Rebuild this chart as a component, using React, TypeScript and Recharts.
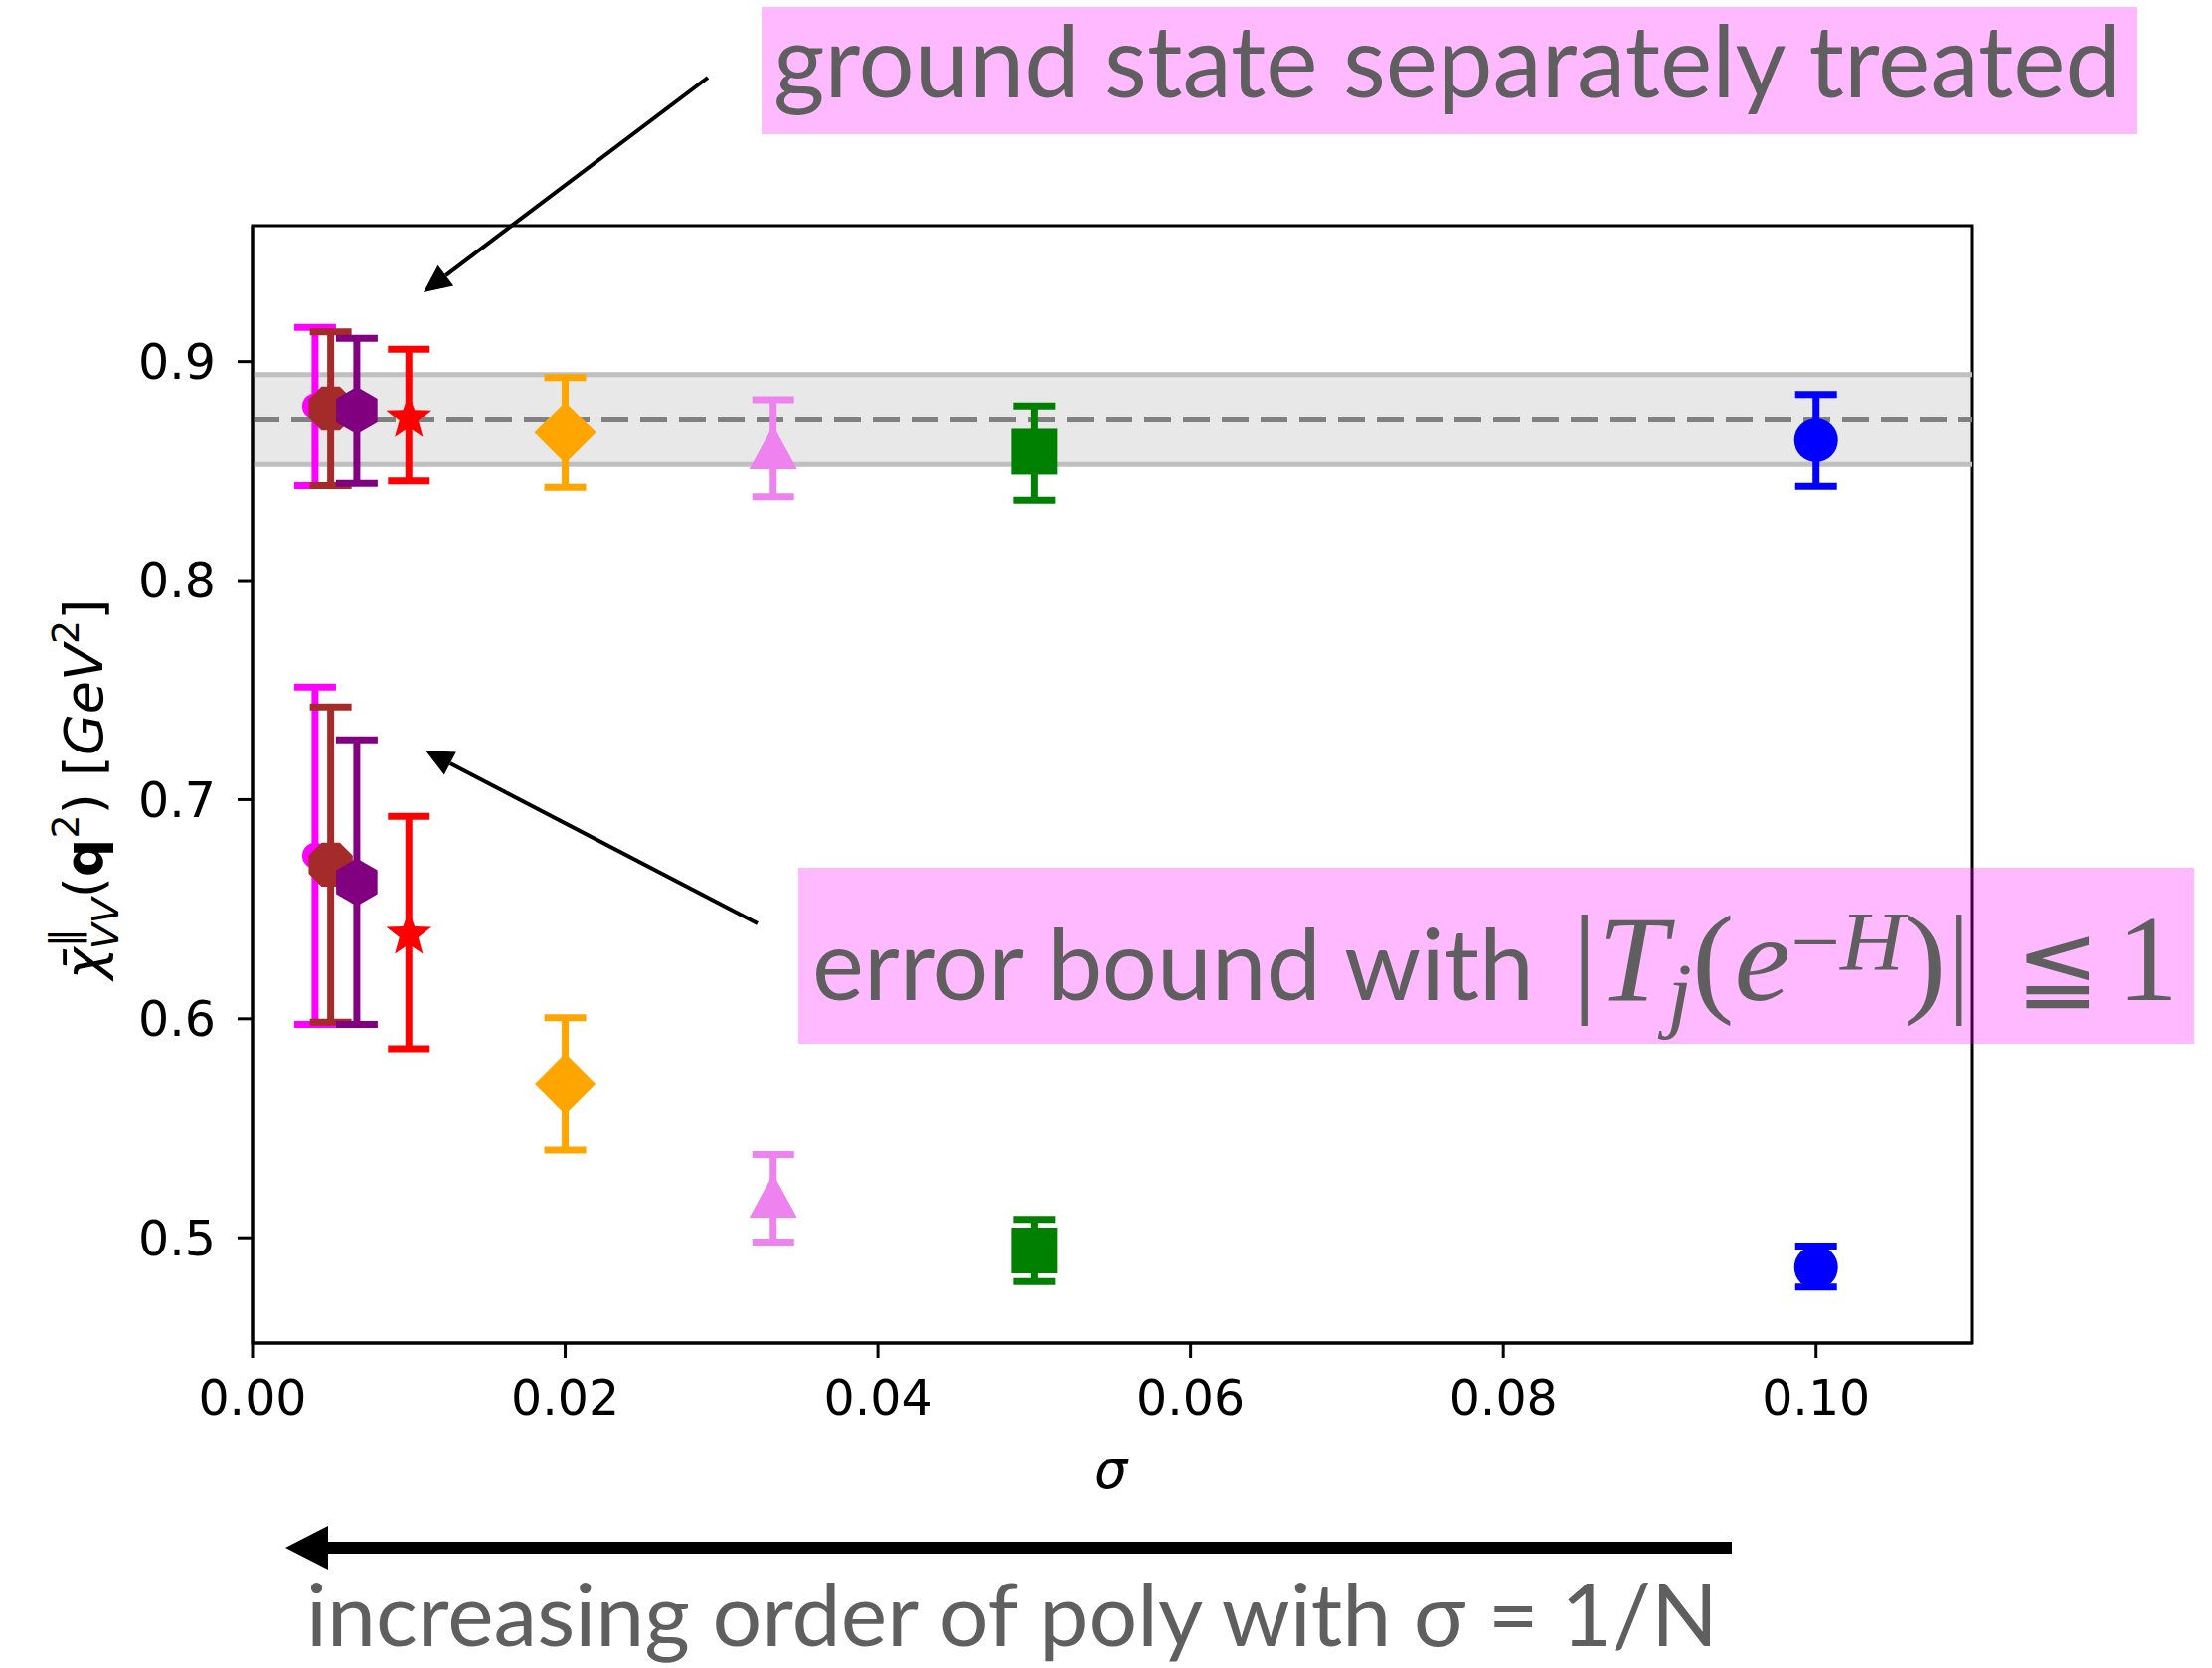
import React from "react";
import {
  ScatterChart, Scatter, XAxis, YAxis, ErrorBar, ReferenceArea, ReferenceLine,
} from "recharts";

// sigma = 1/N for each polynomial order
const sigmas = [0.004, 0.005, 0.00667, 0.01, 0.02, 0.0333, 0.05, 0.1];
const colors = ["#ff00ff", "#a52a2a", "#800080", "#ff0000", "#ffa500", "#ee82ee", "#008000", "#0000ff"];
const markers = ["dot", "octagon", "hexagon", "star", "diamond", "triangle", "square", "circle"];

// ground state separately treated
const groundVal = [0.8797, 0.8785, 0.8776, 0.8743, 0.8675, 0.8604, 0.8588, 0.864];
const groundLo = [0.8434, 0.8434, 0.8444, 0.8455, 0.8425, 0.8382, 0.8367, 0.843];
const groundHi = [0.9156, 0.9136, 0.9106, 0.9056, 0.8927, 0.8826, 0.8798, 0.885];

// error bound with |T_j(e^-H)| <= 1
const boundVal = [0.6744, 0.6703, 0.6623, 0.6385, 0.5702, 0.5187, 0.4942, 0.4865];
const boundLo = [0.5974, 0.5984, 0.5974, 0.5863, 0.54, 0.4981, 0.48, 0.4775];
const boundHi = [0.7513, 0.7423, 0.7273, 0.6924, 0.6005, 0.538, 0.5084, 0.4962];

// reference band
const bandLo = 0.853;
const bandMid = 0.8735;
const bandHi = 0.894;

const xDomain = [0, 0.11];
const yDomain = [0.452, 0.962];
const xTicks = [0, 0.02, 0.04, 0.06, 0.08, 0.1];
const yTicks = [0.5, 0.6, 0.7, 0.8, 0.9];

const TEXT_GRAY = "#5f5f5f";
const TICK = { fontSize: 49, fill: "#000", fontFamily: "DejaVu Sans" };

function polygon(cx: number, cy: number, n: number, r: number, rot: number) {
  const pts: string[] = [];
  for (let i = 0; i < n; i++) {
    const a = rot + (i * 2 * Math.PI) / n;
    pts.push(`${cx + r * Math.cos(a)},${cy + r * Math.sin(a)}`);
  }
  return pts.join(" ");
}

function star(cx: number, cy: number, ro: number, ri: number) {
  const pts: string[] = [];
  for (let i = 0; i < 10; i++) {
    const r = i % 2 === 0 ? ro : ri;
    const a = -Math.PI / 2 + (i * Math.PI) / 5;
    pts.push(`${cx + r * Math.cos(a)},${cy + r * Math.sin(a)}`);
  }
  return pts.join(" ");
}

function makeShape(kind: string, color: string) {
  return (props: any) => {
    const { cx, cy } = props;
    if (cx == null || cy == null) return <g />;
    switch (kind) {
      case "dot":
        return <circle cx={cx} cy={cy} r={13} fill={color} />;
      case "circle":
        return <circle cx={cx} cy={cy} r={22} fill={color} />;
      case "octagon":
        return <polygon points={polygon(cx, cy, 8, 24, Math.PI / 8)} fill={color} />;
      case "hexagon":
        return <polygon points={polygon(cx, cy, 6, 24, -Math.PI / 2)} fill={color} />;
      case "star":
        return <polygon points={star(cx, cy, 24, 10)} fill={color} />;
      case "diamond":
        return <polygon points={polygon(cx, cy, 4, 31, 0)} fill={color} />;
      case "triangle":
        return <polygon points={`${cx},${cy - 23} ${cx - 24},${cy + 21} ${cx + 24},${cy + 21}`} fill={color} />;
      case "square":
        return <rect x={cx - 23} y={cy - 23} width={46} height={46} fill={color} />;
      default:
        return <circle cx={cx} cy={cy} r={20} fill={color} />;
    }
  };
}

function arrow(x1: number, y1: number, x2: number, y2: number, len: number, half: number) {
  const dx = x2 - x1;
  const dy = y2 - y1;
  const d = Math.hypot(dx, dy);
  const ux = dx / d;
  const uy = dy / d;
  const bx = x2 - ux * len;
  const by = y2 - uy * len;
  const head = `${x2},${y2} ${bx - uy * half},${by + ux * half} ${bx + uy * half},${by - ux * half}`;
  return { bx, by, head };
}

export default function App() {
  const series = sigmas.map((s, i) => ({
    color: colors[i],
    marker: markers[i],
    data: [
      { x: s, y: groundVal[i], err: [groundVal[i] - groundLo[i], groundHi[i] - groundVal[i]] },
      { x: s, y: boundVal[i], err: [boundVal[i] - boundLo[i], boundHi[i] - boundVal[i]] },
    ],
  }));

  const a1 = arrow(712, 78, 426, 294, 28, 13);
  const a2 = arrow(762, 929, 428, 755, 28, 13);

  return (
    <div style={{ position: "relative", width: 2225, height: 1678, background: "#fff" }}>
      <style>{`body{margin:0}`}</style>
      <ScatterChart width={2225} height={1678} margin={{ top: 227, right: 241, bottom: 247, left: 154 }}>
        <XAxis
          type="number"
          dataKey="x"
          domain={xDomain}
          ticks={xTicks}
          tickFormatter={(v: number) => v.toFixed(2)}
          tickSize={15}
          tickMargin={22}
          height={80}
          stroke="#000"
          strokeWidth={3}
          tick={TICK}
          allowDataOverflow
        />
        <YAxis
          type="number"
          dataKey="y"
          domain={yDomain}
          ticks={yTicks}
          tickFormatter={(v: number) => v.toFixed(1)}
          tickSize={15}
          tickMargin={22}
          width={100}
          stroke="#000"
          strokeWidth={3}
          tick={TICK}
          allowDataOverflow
        />
        <ReferenceArea y1={bandLo} y2={bandHi} fill="#e8e8e8" fillOpacity={1} stroke="none" />
        <ReferenceLine y={bandLo} stroke="#bfbfbf" strokeWidth={5} />
        <ReferenceLine y={bandHi} stroke="#bfbfbf" strokeWidth={5} />
        <ReferenceLine y={bandMid} stroke="#808080" strokeWidth={6} strokeDasharray="27 12" />
        {series.map((s, i) => (
          <Scatter
            key={i}
            data={s.data}
            fill={s.color}
            shape={makeShape(s.marker, s.color)}
            isAnimationActive={false}
          >
            <ErrorBar dataKey="err" direction="y" width={21} strokeWidth={7} stroke={s.color} />
          </Scatter>
        ))}
        {/* axes frame */}
        <ReferenceArea
          x1={xDomain[0]}
          x2={xDomain[1]}
          y1={yDomain[0]}
          y2={yDomain[1]}
          fill="none"
          fillOpacity={0}
          stroke="#000"
          strokeWidth={3}
          ifOverflow="visible"
        />
      </ScatterChart>

      <svg
        width={2225}
        height={1678}
        style={{ position: "absolute", left: 0, top: 0, pointerEvents: "none" }}
      >
        {/* y axis label */}
        <text
          x={103}
          y={794}
          transform="rotate(-90 103 794)"
          textAnchor="middle"
          fontFamily="DejaVu Sans"
          fontSize={54}
          fill="#000"
        >
          <tspan fontStyle="italic">{"\u03C7\u0304"}</tspan>
          <tspan fontSize={40} dy={-24}>{"\u2225"}</tspan>
          <tspan fontSize={38} fontStyle="italic" dx={-22} dy={40}>VV</tspan>
          <tspan dy={-16}>(</tspan>
          <tspan fontWeight="bold">q</tspan>
          <tspan fontSize={38} dy={-24}>2</tspan>
          <tspan dy={24}>) [</tspan>
          <tspan fontStyle="italic">GeV</tspan>
          <tspan fontSize={38} dy={-24}>2</tspan>
          <tspan dy={24}>]</tspan>
        </text>

        {/* x axis label */}
        <text x={1117} y={1497} textAnchor="middle" fontFamily="DejaVu Sans" fontStyle="italic" fontSize={54} fill="#000">
          σ
        </text>

        {/* top annotation */}
        <rect x={766} y={7} width={1384} height={128} fill="#ff00ff" fillOpacity={0.27} />
        <text x={778} y={98} fontFamily="Lato" fontSize={100} fill={TEXT_GRAY} textLength={1355} lengthAdjust="spacingAndGlyphs">
          ground state separately treated
        </text>
        <line x1={712} y1={78} x2={a1.bx} y2={a1.by} stroke="#000" strokeWidth={4} />
        <polygon points={a1.head} fill="#000" />

        {/* lower annotation */}
        <line x1={762} y1={929} x2={a2.bx} y2={a2.by} stroke="#000" strokeWidth={4} />
        <polygon points={a2.head} fill="#000" />
        <rect x={803} y={873} width={1404} height={177} fill="#ff00ff" fillOpacity={0.27} />
        <text x={817} y={1006} fontFamily="Lato" fontSize={98} fill={TEXT_GRAY} textLength={726} lengthAdjust="spacingAndGlyphs">
          error bound with
        </text>
        <text x={1581} y={1006} fontFamily="Liberation Serif" fontSize={122} fill={TEXT_GRAY} textLength={402} lengthAdjust="spacingAndGlyphs">
          <tspan>|</tspan>
          <tspan fontStyle="italic">T</tspan>
          <tspan fontStyle="italic" fontSize={85} dy={22}>j</tspan>
          <tspan dy={-22}>(</tspan>
          <tspan fontStyle="italic">e</tspan>
          <tspan fontSize={85} dy={-30}>{"\u2212"}</tspan>
          <tspan fontSize={85} fontStyle="italic">H</tspan>
          <tspan dy={30}>)|</tspan>
        </text>
        <text x={2028} y={1006} fontFamily="DejaVu Sans" fontSize={100} fill={TEXT_GRAY}>
          {"\u2266"}
        </text>
        <text x={2130} y={1006} fontFamily="Liberation Serif" fontSize={122} fill={TEXT_GRAY}>
          1
        </text>

        {/* bottom arrow */}
        <rect x={328} y={1551} width={1414} height={12} fill="#000" />
        <polygon points="287,1557 330,1535 330,1579" fill="#000" />
        <text x={308} y={1656} fontFamily="Lato" fontSize={88} fill={TEXT_GRAY} textLength={1420} lengthAdjust="spacingAndGlyphs">
          increasing order of poly with σ = 1/N
        </text>
      </svg>
    </div>
  );
}
